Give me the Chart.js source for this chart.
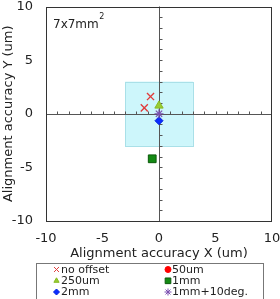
<!DOCTYPE html>
<html><head><meta charset="utf-8">
<script src="https://cdn.jsdelivr.net/npm/chart.js@4"></script>
<style>html,body{margin:0;padding:0;background:#fff;overflow:hidden}</style>
</head><body>
<canvas id="c" width="280" height="299"></canvas>
<script>
// ---- data ----
const seriesNames = ['no offset', '50um', '250um', '1mm', '2mm', '1mm+10deg.'];
const noOffsetX = [-0.75, -1.3];
const noOffsetY = [1.6, 0.55];
const um50X = [0];
const um50Y = [0.7];
const um250X = [0];
const um250Y = [0.75];
const mm1X = [-0.6];
const mm1Y = [-4.2];
const mm2X = [0];
const mm2Y = [-0.65];
const mm1deg10X = [0];
const mm1deg10Y = [0.0];
const boxX = [-3, 3];
const boxY = [-3, 3];
const axisMin = -10, axisMax = 10, tickStep = 5, minorStep = 1;
const xTitle = 'Alignment accuracy X (um)';
const yTitle = 'Alignment accuracy Y (um)';
const noteText = '7x7mm';
const noteSup = '2';

// ---- styles ----
const styles = [
  {pointStyle: 'crossRot', bg: '#e03c3c', border: '#e03c3c', r: 5, lw: 1.4, lr: 3.5, order: 1},
  {pointStyle: 'circle', bg: '#ff0000', border: '#ff0000', r: 1.8, lw: 0, lr: 3, order: 10},
  {pointStyle: 'triangle', bg: '#99cc33', border: '#88bb22', r: 4.8, lw: 1, lr: 3, order: 2},
  {pointStyle: 'rect', bg: '#138a13', border: '#0a5a0a', r: 5.5, lw: 1, lr: 4, order: 3},
  {pointStyle: 'rectRot', bg: '#0a2cff', border: '#0020dd', r: 4, lw: 1, lr: 3, order: 4},
  {pointStyle: 'star', bg: '#7a4fb0', border: '#7a4fb0', r: 4.5, lw: 1.2, lr: 3.5, order: 0}
];
const seriesX = [noOffsetX, um50X, um250X, mm1X, mm2X, mm1deg10X];
const seriesY = [noOffsetY, um50Y, um250Y, mm1Y, mm2Y, mm1deg10Y];

const datasets = seriesNames.map((name, i) => ({
  label: name,
  data: seriesX[i].map((x, j) => ({x: x, y: seriesY[i][j]})),
  pointStyle: styles[i].pointStyle,
  backgroundColor: styles[i].bg,
  borderColor: styles[i].border,
  pointRadius: styles[i].r,
  pointBorderWidth: styles[i].lw,
  order: styles[i].order
}));

const FONT = 'DejaVu Sans';

function noPad(s) { s.paddingTop = 0; s.paddingBottom = 0; s.paddingLeft = 0; s.paddingRight = 0; }

const decor = {
  id: 'decor',
  beforeDatasetsDraw(chart) {
    const ctx = chart.ctx, xs = chart.scales.x, ys = chart.scales.y, a = chart.chartArea;
    ctx.save();
    // cyan box
    const x0 = xs.getPixelForValue(boxX[0]), x1 = xs.getPixelForValue(boxX[1]);
    const y0 = ys.getPixelForValue(boxY[1]), y1 = ys.getPixelForValue(boxY[0]);
    ctx.fillStyle = '#cdf6fb';
    ctx.fillRect(x0, y0, x1 - x0, y1 - y0);
    ctx.strokeStyle = '#a9e0e8';
    ctx.lineWidth = 1;
    ctx.strokeRect(Math.round(x0) + 0.5, Math.round(y0) + 0.5, Math.round(x1 - x0), Math.round(y1 - y0));
    // centre cross lines
    const cx = Math.round(xs.getPixelForValue(0)) + 0.5;
    const cy = Math.round(ys.getPixelForValue(0)) + 0.5;
    ctx.strokeStyle = '#555';
    ctx.beginPath();
    ctx.moveTo(cx, a.top); ctx.lineTo(cx, a.bottom);
    ctx.moveTo(a.left, cy); ctx.lineTo(a.right, cy);
    for (let v = axisMin + minorStep; v < axisMax; v += minorStep) {
      if (v === 0) continue;
      const py = Math.round(ys.getPixelForValue(v)) + 0.5;
      ctx.moveTo(cx, py); ctx.lineTo(cx + 3, py);
      const px = Math.round(xs.getPixelForValue(v)) + 0.5;
      ctx.moveTo(px, cy); ctx.lineTo(px, cy - 3);
    }
    ctx.stroke();
    ctx.restore();
  },
  afterDraw(chart) {
    const ctx = chart.ctx, a = chart.chartArea;
    ctx.save();
    // outer frame
    ctx.strokeStyle = '#333';
    ctx.lineWidth = 1;
    ctx.strokeRect(Math.round(a.left) + 0.5, Math.round(a.top) + 0.5, Math.round(a.right - a.left) - 1, Math.round(a.bottom - a.top) - 1);
    // note
    ctx.fillStyle = '#222';
    ctx.textBaseline = 'alphabetic';
    ctx.textAlign = 'left';
    ctx.font = '12px "' + FONT + '"';
    ctx.fillText(noteText, a.left + 7, a.top + 21);
    const w = ctx.measureText(noteText).width;
    ctx.font = '8px "' + FONT + '"';
    ctx.fillText(noteSup, a.left + 7 + w + 0.5, a.top + 12);
    // legend
    ctx.strokeStyle = '#777';
    ctx.strokeRect(36.5, 263.5, 227, 40);
    ctx.font = '11px "' + FONT + '"';
    ctx.textBaseline = 'middle';
    const colM = [56.5, 168], colT = [61, 172], rowY = [269.5, 280.8, 292];
    seriesNames.forEach((name, i) => {
      const c = i % 2, r = Math.floor(i / 2);
      const st = styles[i];
      ctx.fillStyle = st.bg;
      ctx.strokeStyle = st.border;
      ctx.lineWidth = 1;
      Chart.helpers.drawPoint(ctx, {pointStyle: st.pointStyle, radius: st.lr, rotation: 0, borderWidth: 1}, colM[c], rowY[r]);
      ctx.fillStyle = '#222';
      ctx.fillText(name, colT[c], rowY[r] + 0.5);
    });
    ctx.restore();
  }
};

new Chart(document.getElementById('c'), {
  type: 'scatter',
  data: {datasets: datasets},
  options: {
    responsive: false,
    animation: false,
    devicePixelRatio: 1,
    layout: {padding: {top: 6, right: 8, left: 0, bottom: 37}},
    plugins: {legend: {display: false}, tooltip: {enabled: false}},
    scales: {
      x: {
        type: 'linear', min: axisMin, max: axisMax,
        afterFit(s) { s.height = 41; noPad(s); },
        grid: {display: false, drawTicks: false},
        border: {display: false},
        ticks: {stepSize: tickStep, padding: 10, color: '#222', font: {family: FONT, size: 13}, maxRotation: 0},
        title: {display: true, text: xTitle, color: '#222', font: {family: FONT, size: 13}, padding: {top: 0, bottom: 1}}
      },
      y: {
        type: 'linear', min: axisMin, max: axisMax,
        afterFit(s) { s.width = 46; noPad(s); },
        grid: {display: false, drawTicks: false},
        border: {display: false},
        ticks: {stepSize: tickStep, padding: 13, color: '#222', font: {family: FONT, size: 13}},
        title: {display: true, text: yTitle, color: '#222', font: {family: FONT, size: 13}, padding: {top: 1, bottom: 0}}
      }
    }
  },
  plugins: [decor]
});
</script>
</body></html>
